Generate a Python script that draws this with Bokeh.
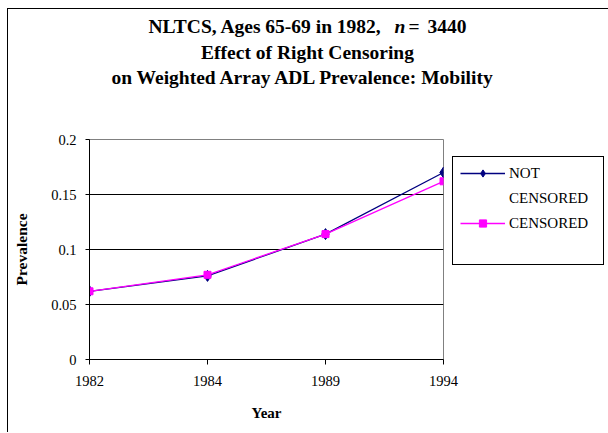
from bokeh.plotting import figure
from bokeh.models import Legend, LegendItem, Title, FixedTicker, NumeralTickFormatter, Range1d
from bokeh.embed import file_html
from bokeh.resources import INLINE

# ---- data ----
years = ["1982", "1984", "1989", "1994"]
not_censored = [0.062, 0.076, 0.114, 0.170]
censored = [0.062, 0.077, 0.114, 0.162]
y_ticks = [0, 0.05, 0.1, 0.15, 0.2]
grid_ticks = [0.05, 0.1, 0.15]
series_names = ["NOT", "CENSORED", "CENSORED"]
title_line1 = ["NLTCS, Ages 65-69 in 1982,", "n", "=", "3440"]
title_line2 = "Effect of Right Censoring"
title_line3 = "on Weighted Array ADL Prevalence:  Mobility"
x_label = "Year"
y_label = "Prevalence"

FONT = "Liberation Serif"
NAVY = "#000080"
MAG = "#FF00FF"

x = list(range(len(years)))

p = figure(width=None, height=None, frame_width=354, frame_height=220,
           output_backend="svg", toolbar_location=None,
           x_range=Range1d(0, len(years) - 1), y_range=Range1d(0, 0.2),
           min_border_left=81, min_border_right=165, min_border_top=130,
           min_border_bottom=74)
p.styles = {"margin-left": "8px", "margin-top": "9px",
            "box-shadow": "-1px -1px 0 0 black"}
p.background_fill_color = "white"
p.border_fill_color = "white"
p.outline_line_color = "#808080"
p.outline_line_width = 1

# axes
p.xaxis.ticker = FixedTicker(ticks=x)
p.xaxis.major_label_overrides = {i: yr for i, yr in enumerate(years)}
p.yaxis.ticker = FixedTicker(ticks=y_ticks)
p.yaxis.formatter = NumeralTickFormatter(format="0.[00]")
for ax in (p.xaxis, p.yaxis):
    ax.axis_line_color = "black"
    ax.major_tick_line_color = "black"
    ax.minor_tick_line_color = None
    ax.major_tick_in = 0
    ax.major_label_text_font = FONT
    ax.major_label_text_font_size = "14.5px"
    ax.major_label_text_color = "black"
    ax.axis_label_text_font = FONT
    ax.axis_label_text_font_style = "bold"
    ax.axis_label_text_color = "black"
p.xaxis.major_tick_out = 5
p.yaxis.major_tick_out = 4
p.xaxis.major_label_standoff = 11
p.yaxis.major_label_standoff = 9
p.xaxis.axis_label = x_label
p.yaxis.axis_label = y_label
p.xaxis.axis_label_text_font_size = "15px"
p.yaxis.axis_label_text_font_size = "15.5px"
p.xaxis.axis_label_standoff = 16
p.yaxis.axis_label_standoff = 18

p.xgrid.visible = False
p.ygrid.ticker = FixedTicker(ticks=grid_ticks)
p.ygrid.grid_line_color = "black"
p.ygrid.grid_line_width = 1

# series
r_nc_line = p.line(x, not_censored, line_color=NAVY, line_width=1.3)
r_nc_pts = p.scatter(x, not_censored, marker="diamond", size=11,
                     fill_color=NAVY, line_color=NAVY)
r_c_line = p.line(x, censored, line_color=MAG, line_width=1.3)
r_c_pts = p.scatter(x, censored, marker="square", size=7,
                    fill_color=MAG, line_color=MAG)
dummy = p.scatter([], [], alpha=0)

legend = Legend(
    items=[LegendItem(label=series_names[0], renderers=[r_nc_line, r_nc_pts]),
           LegendItem(label=series_names[1], renderers=[dummy]),
           LegendItem(label=series_names[2], renderers=[r_c_line, r_c_pts]),
           LegendItem(label=" ", renderers=[dummy])],
    location=(9, 94), padding=7, spacing=7, margin=0,
    glyph_width=45, glyph_height=18, label_height=18, label_width=87,
    label_standoff=4, border_line_color="black", border_line_width=1,
    border_line_alpha=1.0,
    background_fill_color="white", background_fill_alpha=1.0,
    label_text_font=FONT, label_text_font_size="15px", label_text_color="black")
p.add_layout(legend, "right")

# titles, stacked above the frame (first = nearest the frame)
TH = 21.97
tkw = dict(text_font=FONT, text_font_size="19.5px", text_font_style="bold",
           text_color="black", vertical_align="middle", align="left")
zero = -(2 + TH)
spacer = Title(text=" ", standoff=51.25 - 2 - TH, **tkw)
t3 = Title(text=title_line3, offset=22, standoff=25.5 - 2 - TH, **tkw)
t2 = Title(text=title_line2, offset=111.6, standoff=25.5 - 2 - TH, **tkw)
gap = Title(text=" ", standoff=13.75 - 2 - TH, **tkw)
t1a = Title(text=title_line1[0], offset=59, standoff=zero, **tkw)
t1b = Title(text=title_line1[1], offset=305, standoff=zero,
            **dict(tkw, text_font_style="bold italic"))
t1c = Title(text=title_line1[2], offset=319, standoff=zero, **tkw)
t1d = Title(text=title_line1[3], offset=338, standoff=zero, **tkw)
for t in (spacer, t3, t2, gap, t1a, t1b, t1c, t1d):
    p.add_layout(t, "above")

open("out.html", "w").write(file_html(p, INLINE))
